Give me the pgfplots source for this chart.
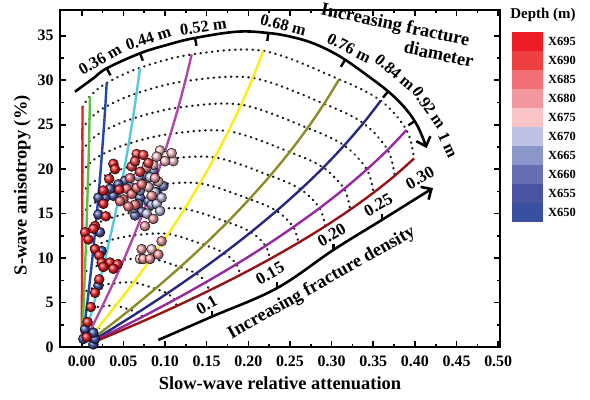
\documentclass[border=0pt]{standalone}
\usepackage{fontspec}
\setmainfont{Liberation Serif}
\usepackage{pgfplots}
\pgfplotsset{compat=1.18}
\usepackage{pgfplotstable}
\usetikzlibrary{arrows.meta}

\definecolor{l1}{RGB}{230,30,30}
\definecolor{l2}{RGB}{95,190,65}
\definecolor{l3}{RGB}{35,70,170}
\definecolor{l4}{RGB}{90,200,220}
\definecolor{l5}{RGB}{180,70,170}
\definecolor{l6}{RGB}{250,238,20}
\definecolor{l7}{RGB}{140,140,40}
\definecolor{l8}{RGB}{40,40,130}
\definecolor{l9}{RGB}{150,40,160}
\definecolor{l10}{RGB}{150,20,20}
\definecolor{dotc}{RGB}{30,30,30}

\definecolor{d695}{RGB}{237,28,36}
\definecolor{d690}{RGB}{238,64,64}
\definecolor{d685}{RGB}{240,112,118}
\definecolor{d680}{RGB}{243,152,158}
\definecolor{d675}{RGB}{248,196,200}
\definecolor{d670}{RGB}{190,195,228}
\definecolor{d665}{RGB}{140,150,202}
\definecolor{d660}{RGB}{105,110,178}
\definecolor{d655}{RGB}{72,84,160}
\definecolor{d650}{RGB}{55,80,162}

% d = diameter line, e = density step (0: 0.01, k: 0.025k)
\pgfplotstableread{
d e x y
1 0 0.0000 0.64
1 1 0.0001 1.76
1 2 0.0002 3.76
1 3 0.0003 5.88
1 4 0.0004 8.06
1 5 0.0005 10.31
1 6 0.0006 12.60
1 7 0.0007 14.92
1 8 0.0007 17.29
1 9 0.0008 19.67
1 10 0.0009 22.09
1 11 0.0009 24.53
1 12 0.0010 27.00
2 0 0.0003 0.67
2 1 0.0009 1.83
2 2 0.0019 3.93
2 3 0.0029 6.14
2 4 0.0038 8.42
2 5 0.0048 10.76
2 6 0.0057 13.16
2 7 0.0065 15.59
2 8 0.0073 18.05
2 9 0.0081 20.55
2 10 0.0088 23.08
2 11 0.0094 25.63
2 12 0.0100 28.20
3 0 0.0010 0.70
3 1 0.0027 1.93
3 2 0.0056 4.14
3 3 0.0086 6.46
3 4 0.0115 8.87
3 5 0.0143 11.34
3 6 0.0170 13.86
3 7 0.0195 16.42
3 8 0.0220 19.01
3 9 0.0242 21.64
3 10 0.0263 24.30
3 11 0.0283 26.99
3 12 0.0300 29.70
4 0 0.0023 0.74
4 1 0.0063 2.04
4 2 0.0131 4.37
4 3 0.0200 6.83
4 4 0.0268 9.38
4 5 0.0333 11.99
4 6 0.0396 14.65
4 7 0.0456 17.35
4 8 0.0513 20.10
4 9 0.0565 22.88
4 10 0.0614 25.69
4 11 0.0659 28.53
4 12 0.0700 31.40
5 0 0.0043 0.78
5 1 0.0118 2.14
5 2 0.0247 4.58
5 3 0.0377 7.16
5 4 0.0505 9.82
5 5 0.0628 12.56
5 6 0.0747 15.35
5 7 0.0860 18.18
5 8 0.0967 21.06
5 9 0.1066 23.97
5 10 0.1159 26.92
5 11 0.1243 29.90
5 12 0.1320 32.90
6 0 0.0072 0.79
6 1 0.0195 2.16
6 2 0.0408 4.64
6 3 0.0623 7.25
6 4 0.0834 9.94
6 5 0.1038 12.71
6 6 0.1234 15.53
6 7 0.1420 18.40
6 8 0.1596 21.32
6 9 0.1761 24.27
6 10 0.1914 27.25
6 11 0.2053 30.26
6 12 0.2180 33.30
7 0 0.0102 0.71
7 1 0.0276 1.96
7 2 0.0579 4.19
7 3 0.0883 6.55
7 4 0.1182 8.99
7 5 0.1471 11.49
7 6 0.1749 14.04
7 7 0.2013 16.64
7 8 0.2263 19.27
7 9 0.2496 21.93
7 10 0.2712 24.63
7 11 0.2910 27.35
7 12 0.3090 30.10
8 0 0.0118 0.66
8 1 0.0321 1.80
8 2 0.0672 3.86
8 3 0.1026 6.03
8 4 0.1373 8.27
8 5 0.1709 10.57
8 6 0.2032 12.92
8 7 0.2339 15.31
8 8 0.2629 17.73
8 9 0.2900 20.18
8 10 0.3151 22.67
8 11 0.3381 25.17
8 12 0.3590 27.70
9 0 0.0128 0.58
9 1 0.0348 1.59
9 2 0.0730 3.40
9 3 0.1114 5.31
9 4 0.1491 7.29
9 5 0.1857 9.31
9 6 0.2208 11.38
9 7 0.2541 13.49
9 8 0.2856 15.62
9 9 0.3150 17.78
9 10 0.3423 19.97
9 11 0.3673 22.17
9 12 0.3900 24.40
10 0 0.0131 0.50
10 1 0.0356 1.38
10 2 0.0747 2.95
10 3 0.1140 4.61
10 4 0.1526 6.33
10 5 0.1900 8.09
10 6 0.2259 9.89
10 7 0.2600 11.72
10 8 0.2922 13.57
10 9 0.3223 15.45
10 10 0.3502 17.35
10 11 0.3758 19.26
10 12 0.3990 21.20
}\grid
% same grid, ordered by density step then line, for the dotted arcs
\pgfplotstablecreatecol[create col/expr={\thisrow{e}*100+\thisrow{d}}]{k}\grid
\pgfplotstablesort[sort key=k]{\gridE}{\grid}

\begin{document}
\begin{tikzpicture}[x=1bp,y=1bp]
\useasboundingbox (-60,-52) rectangle (530,347);
\begin{axis}[
  at={(0,0)}, anchor=south west, scale only axis,
  width=440bp, height=337bp,
  xmin=-0.02605, xmax=0.50216, ymin=0, ymax=37.9,
  xtick={0,0.05,0.10,0.15,0.20,0.25,0.30,0.35,0.40,0.45,0.50},
  ytick={0,5,10,15,20,25,30,35},
  minor x tick num=1, minor y tick num=1,
  tick align=inside, xtick pos=both, ytick pos=both,
  major tick length=6bp, minor tick length=3.5bp,
  every tick/.style={black, line width=1.6bp},
  axis line style={line width=2.4bp},
  unbounded coords=discard,
  /pgf/number format/assume math mode=true,
  x tick label style={/pgf/number format/fixed, /pgf/number format/fixed zerofill, /pgf/number format/precision=2, yshift=-5bp},
  y tick label style={xshift=-3bp},
  tick label style={font=\bfseries\fontsize{16}{16}\selectfont},
  xlabel={Slow-wave relative attenuation},
  ylabel={S-wave anisotropy (\%)},
  label style={font=\bfseries\fontsize{18.5}{18.5}\selectfont},
  xlabel style={at={(axis description cs:0.5,-0.107)}, anchor=center},
  ylabel style={at={(axis description cs:-0.086,0.48)}, anchor=center},
]
% constant-density arcs
\pgfplotsinvokeforeach{1,...,12}{
  \addplot[dotc, line width=2.3bp, line cap=round, dash pattern=on 0.5bp off 5.3bp, smooth, tension=0.55, unbounded coords=discard]
    table[x=x, y=y, restrict expr to domain={\thisrow{e}}{#1:#1}] {\gridE};
}
% constant-diameter lines
\pgfplotsinvokeforeach{1,...,10}{
  \addplot[l#1, line width=2.4bp, smooth]
    table[x=x, y=y, restrict expr to domain={\thisrow{d}}{#1:#1}] {\grid};
}
% measured data
\pgfplotsset{ballstyle/.style={only marks, mark=ball, mark size=5bp, mark options={ball color=#1}}}
\addplot[ballstyle=d650] coordinates {(0.024,10.8) (0.020,6.9) (0.004,2.0) (0.012,1.3) (0.014,0.3) (0.002,0.9) (0.016,0.9) (0.014,1.6)};
\addplot[ballstyle=d655] coordinates {(0.052,18.7) (0.044,18.3) (0.038,17.0) (0.028,16.8) (0.020,16.8) (0.020,14.9) (0.022,12.9) (0.034,17.8)};
\addplot[ballstyle=d660] coordinates {(0.070,16.8) (0.080,16.4) (0.068,16.1) (0.090,17.4) (0.086,19.8) (0.098,18.1) (0.072,15.2) (0.064,14.8)};
\addplot[ballstyle=d665] coordinates {(0.076,18.3) (0.074,19.4) (0.084,16.0) (0.070,17.6) (0.062,15.6) (0.058,18.0)};
\addplot[ballstyle=d670] coordinates {(0.090,16.1) (0.094,15.3) (0.082,19.1) (0.088,17.4) (0.078,15.0) (0.096,16.8) (0.068,19.2)};
\addplot[ballstyle=d675] coordinates {(0.094,22.1) (0.102,21.5) (0.110,20.9) (0.100,20.9) (0.086,20.5) (0.092,18.6) (0.080,18.0) (0.108,21.8) (0.090,21.4) (0.070,9.9) (0.084,11.0)};
\addplot[ballstyle=d680] coordinates {(0.086,14.4) (0.076,13.6) (0.096,11.9) (0.072,11.0) (0.074,9.9) (0.082,9.9) (0.092,10.4) (0.088,19.0) (0.084,17.0) (0.078,20.2)};
\addplot[ballstyle=d685] coordinates {(0.054,17.8) (0.050,16.6) (0.060,17.2) (0.066,17.9) (0.046,16.4) (0.072,18.3) (0.058,19.0) (0.064,16.0) (0.056,15.8)};
\addplot[ballstyle=d690] coordinates {(0.066,21.7) (0.074,21.6) (0.080,20.7) (0.060,20.3) (0.070,19.7) (0.064,20.9)};
\addplot[ballstyle=d695] coordinates {(0.038,20.6) (0.040,20.0) (0.033,18.9) (0.026,17.6) (0.045,17.7) (0.026,16.1) (0.029,14.7) (0.016,13.6) (0.014,13.3) (0.004,12.9) (0.008,12.1) (0.016,11.0) (0.021,10.3) (0.024,9.5) (0.034,9.5) (0.043,9.3) (0.026,9.0) (0.038,8.8) (0.021,7.6) (0.016,6.1) (0.011,4.5) (0.007,2.8) (0.006,1.1)};
\end{axis}

% --- diameter annotation
\draw[line width=2.6bp, -{Straight Barb[length=8bp,width=15bp]}] plot[smooth, tension=0.6] coordinates {(15,255.3) (33.3,268.7) (46.7,278.7) (80,293.7) (106.7,302) (133.3,308.7) (176.7,315.3) (208.3,314) (232,310) (255,303) (280,290.5) (306.7,272) (330,254) (346.7,237) (358,220) (366.7,199)};
\foreach \a/\b/\c/\d in {46.7/278.7/50.5/271.7, 80/293.7/82.9/286.3, 135/309/136.5/301.2, 208.3/314/207.3/306.1, 285/287/280.8/280.2, 328/255.5/323/249.3, 355/226/348.3/221.7}
  \draw[line width=2.4bp] (\a,\b) -- (\c,\d);
\begin{scope}[every node/.style={font=\bfseries\fontsize{16.5}{16.5}\selectfont, inner sep=0pt}]
\node[rotate=30] at (40,287.8) {0.36 m};
\node[rotate=18] at (88.3,308.7) {0.44 m};
\node[rotate=8] at (143.3,320.3) {0.52 m};
\node[rotate=-15] at (223.3,322) {0.68 m};
\node[rotate=-27] at (289,299) {0.76 m};
\node[rotate=-40] at (335,275) {0.84 m};
\node[rotate=-55] at (369,239) {0.92 m};
\node[rotate=-65] at (388,202) {1 m};
\end{scope}
\node[rotate=-12, font=\bfseries\fontsize{18.5}{18.5}\selectfont, inner sep=0pt] at (335,321) {Increasing fracture};
\node[rotate=-12, font=\bfseries\fontsize{18.5}{18.5}\selectfont, inner sep=0pt] at (379,293) {diameter};

% --- density annotation
\draw[line width=2.6bp, -{Straight Barb[length=8bp,width=15bp]}] plot[smooth, tension=0.6] coordinates {(98.3,7) (151.7,30.3) (216.7,58.7) (273.3,97) (321.7,127) (373,159)};
\foreach \a/\b in {151.7/30.3, 216.7/58.7, 273.3/97, 321.7/127}
  \draw[line width=2.4bp] (\a,\b) -- ++(0,6);
\begin{scope}[every node/.style={font=\bfseries\fontsize{17}{17}\selectfont, inner sep=0pt, rotate=30}]
\node at (146.7,42) {0.1};
\node at (210,73.7) {0.15};
\node at (271.7,112) {0.20};
\node at (318.3,142) {0.25};
\node at (360,169) {0.30};
\end{scope}
\node[rotate=29.5, font=\bfseries\fontsize{18.5}{18.5}\selectfont, inner sep=0pt] at (261.7,63.7) {Increasing fracture density};

% --- depth legend
\node[font=\bfseries\fontsize{15}{15}\selectfont] at (483,332) {Depth (m)};
\foreach \c/\t [count=\i from 0] in {d695/X695, d690/X690, d685/X685, d680/X680, d675/X675, d670/X670, d665/X665, d660/X660, d655/X655, d650/X650} {
  \fill[\c] (451.7,{315.3-19*\i}) rectangle ++(31.6,-19);
  \node[anchor=west, inner sep=0pt, font=\bfseries\fontsize{12.5}{12.5}\selectfont] at (488,{305.8-19*\i}) {\t};
}
\end{tikzpicture}
\end{document}
